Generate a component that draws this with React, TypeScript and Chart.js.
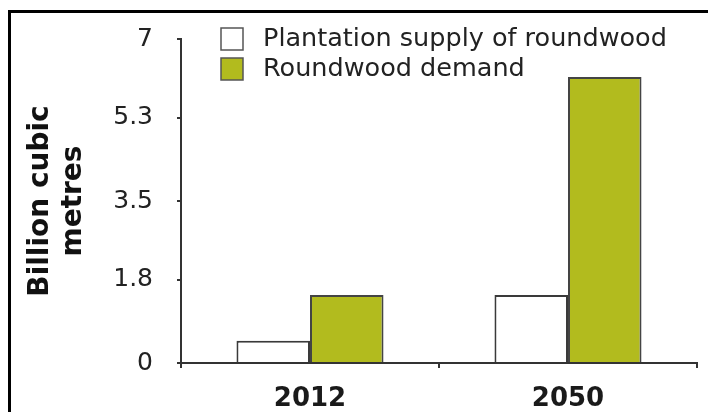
import React, { useEffect, useRef } from "react";
import { Chart, registerables } from "chart.js";

Chart.register(...registerables);

const categories = ["2012", "2050"];
const plantationSupply = [0.48, 1.47];
const roundwoodDemand = [1.47, 6.18];
const yTickValues = [0, 1.8, 3.5, 5.3, 7];
const seriesLabels = ["Plantation supply of roundwood", "Roundwood demand"];
const yTitle = ["Billion cubic", "metres"];

const GREEN = "#B2BB1E";

const legendPlugin = {
  id: "customLegend",
  afterDraw(chart: any) {
    const ctx = chart.ctx;
    ctx.save();
    const items = chart.data.datasets;
    const x0 = 221;
    const rows = [39, 69];
    items.forEach((ds: any, i: number) => {
      const cy = rows[i];
      ctx.fillStyle = ds.backgroundColor;
      ctx.fillRect(x0, cy - 11, 22, 22);
      ctx.lineWidth = 1.5;
      ctx.strokeStyle = "#555";
      ctx.strokeRect(x0, cy - 11, 22, 22);
      ctx.fillStyle = "#222";
      ctx.font = "25.5px 'DejaVu Sans'";
      ctx.textBaseline = "middle";
      ctx.textAlign = "left";
      ctx.fillText(ds.label, 263, cy);
    });
    ctx.restore();
  },
};

export default function App() {
  const ref = useRef<HTMLCanvasElement>(null);

  useEffect(() => {
    if (!ref.current) return;
    const chart = new Chart(ref.current, {
      type: "bar",
      data: {
        labels: categories,
        datasets: [
          {
            label: seriesLabels[0],
            data: plantationSupply,
            backgroundColor: "#ffffff",
            borderColor: "#3a3a3a",
            borderWidth: 2,
            barPercentage: 1,
            categoryPercentage: 0.57,
          },
          {
            label: seriesLabels[1],
            data: roundwoodDemand,
            backgroundColor: GREEN,
            borderColor: "#444",
            borderWidth: 2,
            barPercentage: 1,
            categoryPercentage: 0.57,
          },
        ],
      },
      options: {
        animation: false,
        responsive: false,
        layout: { padding: { top: 38, right: 11, left: 0, bottom: 0 } },
        plugins: {
          legend: { display: false },
          tooltip: { enabled: false },
        },
        scales: {
          x: {
            grid: {
              display: true,
              drawOnChartArea: false,
              drawTicks: true,
              tickLength: 5,
              color: "#333",
              lineWidth: 2,
            },
            border: { display: true, color: "#333", width: 2 },
            ticks: {
              color: "#1a1a1a",
              font: { family: "'DejaVu Sans'", size: 26, weight: "bold" },
              padding: 16,
            },
            afterFit: (scale: any) => {
              scale.height = 49;
            },
          },
          y: {
            min: 0,
            max: 7,
            afterBuildTicks: (scale: any) => {
              scale.ticks = yTickValues.map((v) => ({ value: v }));
            },
            afterFit: (scale: any) => {
              scale.width = 181;
            },
            grid: {
              display: true,
              drawOnChartArea: false,
              drawTicks: true,
              tickLength: 4,
              color: "#333",
              lineWidth: 2,
            },
            border: { display: true, color: "#333", width: 2 },
            ticks: {
              color: "#222",
              font: { family: "'DejaVu Sans'", size: 25 },
              padding: 24,
              callback: (v: any) => String(v),
            },
            title: {
              display: true,
              text: yTitle,
              color: "#111",
              font: { family: "'DejaVu Sans'", size: 28, weight: "bold", lineHeight: 1.18 },
              padding: { top: 24, bottom: 0 },
            },
          },
        },
      },
      plugins: [legendPlugin],
    });
    return () => chart.destroy();
  }, []);

  return (
    <div style={{ position: "fixed", left: 0, top: 0, width: 708, height: 412, background: "#fff" }}>
      <div
        style={{
          position: "absolute",
          left: 8,
          top: 10,
          width: 720,
          height: 420,
          borderTop: "3px solid #000",
          borderLeft: "3px solid #000",
          boxSizing: "border-box",
        }}
      />
      <canvas
        ref={ref}
        width={708}
        height={412}
        style={{ position: "absolute", left: 0, top: 0, width: 708, height: 412 }}
      />
    </div>
  );
}
